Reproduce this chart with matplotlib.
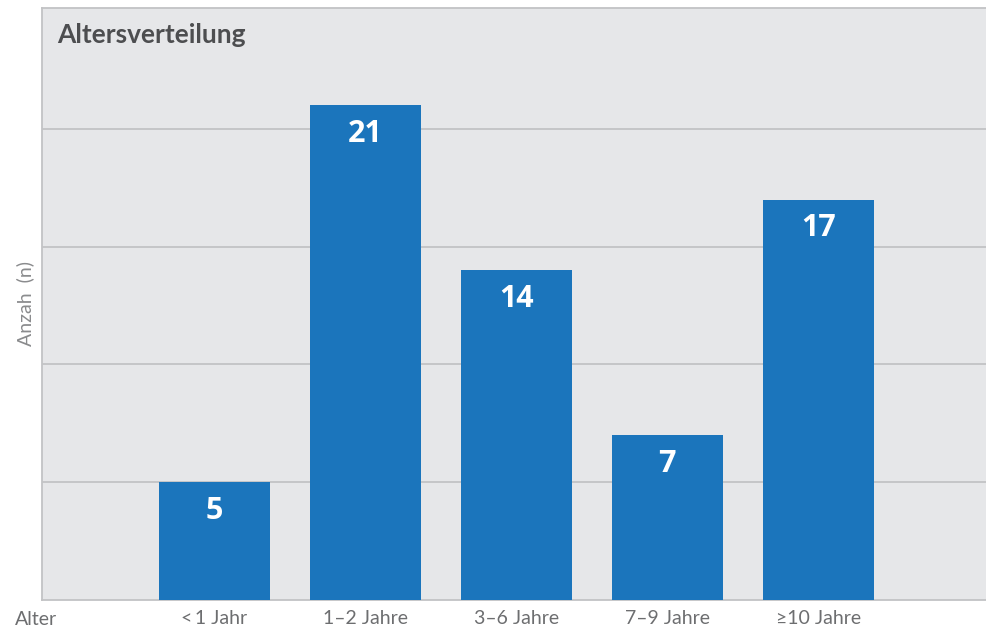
import matplotlib
matplotlib.use("Agg")
import matplotlib.pyplot as plt
import matplotlib.transforms as mtransforms

# data
kategorien = ['<\u20091 Jahr', '1–2 Jahre', '3–6 Jahre', '7–9 Jahre', '≥10 Jahre']
anzahl = [5, 21, 14, 7, 17]

plt.rcParams['font.family'] = ['Lato', 'DejaVu Sans']

fig = plt.figure(figsize=(9.86, 6.32), dpi=100)
ax = fig.add_axes([42/986, 32/632, 944/986, 592/632])
ax.set_facecolor('#e6e7e9')

pos = list(range(len(anzahl)))
bars = ax.bar(pos, anzahl, width=0.735, color='#1b75bc', zorder=3)

for p, v in zip(pos, anzahl):
    ax.annotate(str(v), (p, v), xytext=(0, -10), textcoords='offset points',
                ha='center', va='top', color='white', fontsize=22,
                fontweight='bold', family=['Open Sans', 'DejaVu Sans'], zorder=4)

ax.set_xlim(-1.14, 5.11)
ax.set_ylim(0, 25.13)
ax.set_yticks([5, 10, 15, 20])
ax.yaxis.grid(True, color='#c2c3c5', linewidth=1.3, zorder=1)
ax.tick_params(axis='y', left=False, labelleft=False)
ax.set_xticks(pos)
ax.set_xticklabels(kategorien, fontsize=14, color='#6d6e70')
ax.tick_params(axis='x', bottom=False, pad=4)

for s in ['left', 'top', 'bottom']:
    ax.spines[s].set_color('#c2c3c5')
    ax.spines[s].set_linewidth(1.3)
ax.spines['right'].set_visible(False)

ax.set_ylabel('Anzah  (n)', fontsize=14, color='#8a8b8d', labelpad=6)

# "Alter" links unter der Achse
trans = mtransforms.blended_transform_factory(fig.transFigure, ax.transAxes)
ax.text(36/986, -0.018, 'Alter', transform=trans, ha='center', va='top',
        fontsize=14, color='#6d6e70')

ax.text(15/944, 0.975, 'Altersverteilung', transform=ax.transAxes,
        ha='left', va='top', fontsize=19, fontweight='bold', color='#4d4e50')

fig.savefig('out.png', dpi=100)
